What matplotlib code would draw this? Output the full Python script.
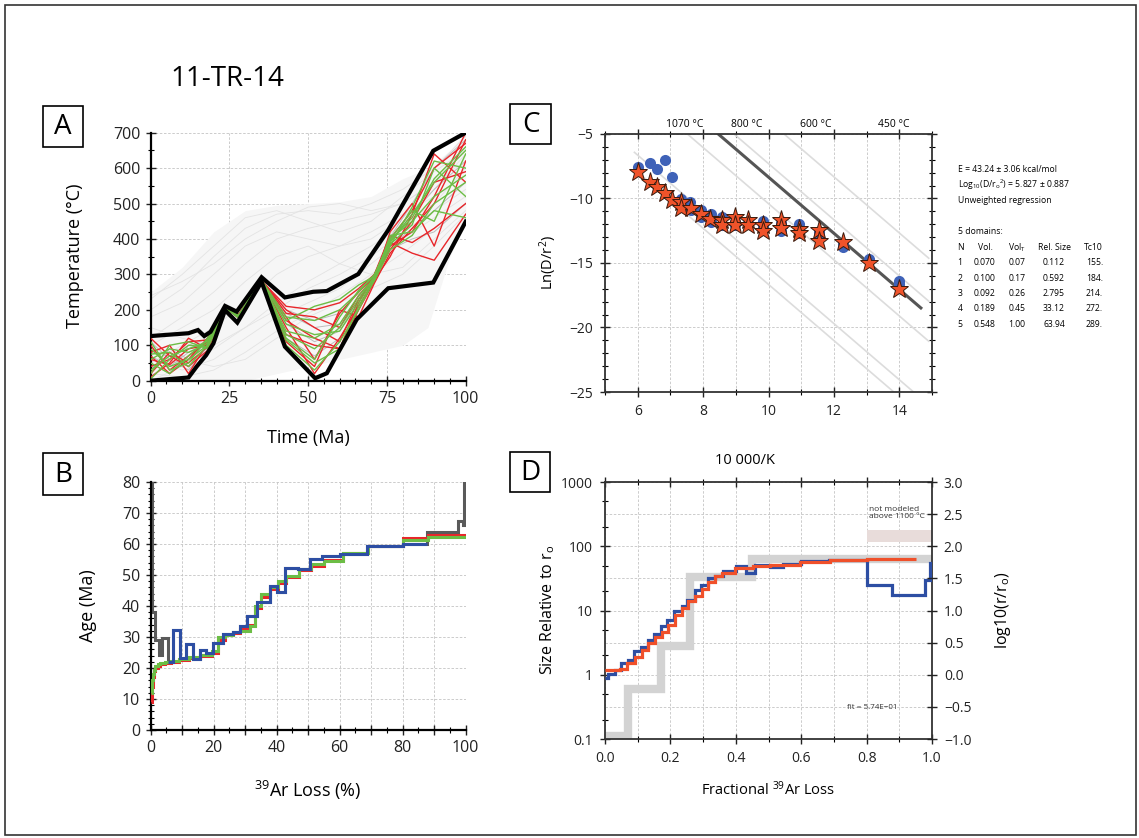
import numpy as np
import matplotlib
matplotlib.use("Agg")
import matplotlib.pyplot as plt
from matplotlib.patches import Rectangle
from matplotlib.ticker import MultipleLocator, FixedLocator, FuncFormatter, NullFormatter

plt.rcParams["font.family"] = ["Open Sans", "DejaVu Sans"]
plt.rcParams["mathtext.default"] = "regular"

#######################################################
# DATA
#######################################################

SAMPLE = "11-TR-14"

# --- A: thermal history (time Ma, temperature C)
ENV_T = [0, 12, 15, 17, 19, 23.6, 27.3, 35.2, 42.6, 51.6, 55.9, 65.9, 75.4, 89.7, 100]
ENV_HI = [126, 134, 143, 126, 138, 211, 195, 292, 235, 251, 253, 301, 425, 649, 700]
ENV_LO_T = [0, 12, 14.6, 17.6, 19.9, 23.6, 27.5, 35.2, 42.6, 52.2, 55.9, 65.4, 75.4, 89.7, 100]
ENV_LO = [0, 9, 40, 72, 105, 199, 164, 279, 96, 7, 21, 173, 261, 277, 449]

CLOUD_T = [0, 10, 20, 30, 40, 50, 60, 70, 80, 88, 95, 100]
CLOUD_HI = [250, 320, 420, 480, 495, 500, 505, 520, 570, 600, 650, 700]
CLOUD_LO = [0, 0, 0, 0, 20, 40, 60, 80, 100, 150, 350, 450]

GRAY_T = [0, 10, 20, 30, 40, 50, 60, 70, 80, 90, 100]
GRAY_PATHS = [
    [200, 260, 350, 430, 470, 480, 470, 500, 540, 600, 690],
    [120, 180, 250, 330, 400, 430, 450, 470, 500, 560, 620],
    [50, 100, 150, 220, 300, 350, 380, 420, 470, 520, 580],
    [0, 40, 90, 150, 200, 260, 300, 350, 420, 480, 540],
    [230, 300, 380, 460, 480, 450, 420, 450, 520, 590, 650],
    [80, 60, 40, 60, 120, 180, 220, 260, 300, 380, 470],
    [150, 120, 100, 150, 220, 280, 330, 380, 440, 500, 600],
    [20, 10, 30, 80, 140, 190, 240, 300, 360, 430, 500],
    [180, 220, 300, 380, 420, 400, 380, 400, 460, 540, 640],
    [100, 150, 200, 280, 350, 380, 330, 300, 320, 400, 480],
    [240, 280, 330, 400, 450, 490, 500, 480, 500, 560, 660],
    [60, 30, 60, 120, 180, 220, 260, 330, 400, 460, 520],
]

PATH_T = [0, 6, 12, 18, 24, 28, 35, 43, 52, 60, 66, 71, 76, 83, 90, 100]
MID_PATHS = [
    [70, 40, 80, 100, 205, 182, 285, 160, 110, 140, 230, 290, 380, 430, 480, 560],
    [30, 90, 60, 110, 205, 180, 285, 200, 170, 190, 250, 296, 395, 470, 540, 620],
    [110, 60, 30, 95, 205, 184, 286, 120, 70, 120, 210, 284, 370, 400, 420, 500],
    [50, 20, 100, 118, 205, 178, 284, 190, 150, 160, 240, 292, 405, 500, 600, 680],
]
RED_PATHS = [
    [60, 45, 90, 100, 205, 185, 285, 200, 150, 110, 230, 290, 380, 420, 520, 700],
    [100, 30, 70, 110, 205, 180, 285, 180, 60, 190, 250, 295, 400, 480, 600, 670],
    [20, 80, 50, 95, 206, 178, 286, 150, 20, 120, 210, 285, 350, 470, 640, 560],
    [40, 60, 110, 115, 204, 182, 284, 210, 200, 220, 260, 300, 410, 390, 430, 500],
    [120, 70, 40, 85, 205, 176, 285, 130, 100, 90, 200, 280, 420, 500, 380, 620],
    [80, 100, 20, 105, 206, 188, 287, 190, 180, 150, 240, 292, 370, 450, 560, 590],
    [10, 50, 120, 90, 204, 184, 284, 110, 40, 200, 180, 275, 360, 430, 500, 680],
    [70, 20, 60, 120, 205, 180, 286, 170, 120, 90, 220, 300, 390, 360, 340, 470],
]
GREEN_PATHS = [
    [30, 70, 90, 110, 206, 180, 285, 140, 120, 160, 240, 290, 390, 470, 560, 650],
    [90, 40, 60, 100, 205, 184, 286, 120, 60, 180, 255, 295, 400, 450, 520, 580],
    [5, 60, 100, 95, 204, 178, 284, 160, 130, 140, 220, 288, 380, 490, 620, 600],
    [60, 90, 80, 105, 205, 182, 285, 100, 30, 110, 200, 285, 410, 420, 480, 460],
    [110, 30, 50, 120, 206, 186, 287, 180, 170, 200, 250, 300, 395, 460, 570, 660],
    [20, 100, 110, 90, 204, 176, 283, 130, 90, 150, 230, 292, 385, 440, 600, 520],
    [50, 20, 70, 115, 205, 180, 285, 170, 210, 230, 270, 295, 400, 480, 450, 640],
    [75, 80, 40, 100, 206, 184, 286, 115, 50, 90, 210, 282, 370, 410, 500, 560],
]

# --- B: age spectra (cumulative 39Ar loss %, age Ma)
OBS_EDGES = [0.0, 0.4, 1.3, 2.5, 3.7, 5.4, 7.2, 9.3, 11.3, 13.5, 15.6, 17.7, 19.8, 22.9,
             26.2, 28.4, 30.5, 33.7, 37.9, 40.0, 42.6, 46.9, 50.6, 54.5, 60.1, 68.6,
             80.0, 87.6, 97.7, 99.2, 99.6, 100.0]
OBS_AGES = [95, 38, 29, 24.2, 29.6, 22.0, 32.3, 23.1, 27.7, 22.8, 25.8, 25.0, 28.0,
            30.9, 31.6, 33.4, 36.9, 41.4, 46.6, 44.5, 52.2, 51.9, 55.2, 56.0, 56.8,
            59.5, 60.0, 64.0, 67.5, 66.0, 95]
BLUE_EDGES = [5.4, 7.2, 9.3, 11.3, 13.5, 15.6, 17.7, 19.8, 22.9, 26.2, 28.4, 30.5,
              33.7, 37.9, 40.0, 42.6, 46.9, 50.6, 54.5, 60.1, 68.6, 80.0, 87.6]
BLUE_AGES = [22.0, 32.3, 23.1, 27.7, 22.8, 25.8, 25.0, 28.0, 30.9, 31.6, 33.4, 36.9,
             41.4, 46.6, 44.5, 52.2, 51.9, 55.2, 56.0, 56.8, 59.5, 60.0]
MODEL_EDGES = [0, 0.3, 0.6, 1.0, 1.5, 2.2, 3.0, 4.5, 6.5, 9.0, 12.0, 15.5, 19.5, 21.5,
               23.5, 26.0, 28.5, 31.5, 33.0, 35.0, 38.0, 40.5, 43.0, 47.0, 51.0, 55.0,
               61.0, 69.0, 80.0, 88.0, 100]
RED_AGES = [9, 14, 17, 19, 20, 20.8, 21.3, 21.7, 22.0, 22.5, 23.2, 24.0, 25.0, 29.0,
            30.5, 31.2, 32.5, 34.0, 39.5, 43.0, 45.5, 47.5, 49.5, 51.5, 53.0, 55.0,
            57.0, 59.5, 61.8, 62.8]
GREEN_AGES = [12, 16, 18, 19.5, 20.5, 21.2, 21.6, 21.9, 22.3, 22.8, 23.6, 24.3, 25.5,
              30.0, 30.8, 31.6, 32.0, 33.5, 40.0, 44.0, 46.0, 48.0, 49.8, 51.8, 53.5,
              54.5, 57.0, 59.5, 61.3, 62.3]

# --- C: Arrhenius plot (10000/K, ln(D/r^2))
E_KCAL = 43.24
LOG_D0 = 5.827
OBS_X = [6.0, 6.38, 6.59, 6.82, 7.06, 7.31, 7.6, 7.62, 7.93, 7.93, 8.24, 8.24, 8.58, 8.58,
         8.98, 8.98, 9.38, 9.83, 9.83, 10.37, 10.37, 10.92, 10.92, 11.54, 11.54, 12.27,
         12.27, 13.08, 13.98, 13.98]
OBS_Y = [-7.53, -7.27, -7.71, -7.02, -8.31, -10.06, -10.3, -10.9, -10.89, -11.46, -11.2,
         -11.8, -11.46, -12.05, -11.8, -12.05, -11.9, -11.75, -12.2, -11.9, -12.5, -12.0,
         -12.7, -12.6, -12.9, -13.79, -13.5, -14.7, -16.37, -16.6]
MOD_X = [6.0, 6.38, 6.59, 6.82, 7.06, 7.31, 7.33, 7.63, 7.93, 8.22, 8.58, 8.58, 8.98, 8.98,
         9.38, 9.38, 9.83, 9.83, 10.37, 10.37, 10.92, 10.92, 11.54, 11.54, 12.27, 13.08, 13.98]
MOD_Y = [-7.92, -8.69, -9.13, -9.6, -10.12, -10.3, -10.7, -10.71, -11.2, -11.59, -11.67,
         -12.05, -11.46, -12.05, -11.67, -12.05, -12.05, -12.49, -11.67, -12.31, -12.39,
         -12.65, -12.44, -13.29, -13.4, -15.03, -17.0]
TEMP_LABELS = [1070, 800, 600, 450]

# --- domain table
DOMAIN_N = [1, 2, 3, 4, 5]
DOMAIN_VOL = [0.070, 0.100, 0.092, 0.189, 0.548]
DOMAIN_VOLT = [0.07, 0.17, 0.26, 0.45, 1.00]
REL_SIZE = [0.112, 0.592, 2.795, 33.12, 63.94]
TC10 = [155., 184., 214., 272., 289.]

# --- D: size relative to r0 vs fractional 39Ar loss
D_BLUE_EDGES = [0, 0.01, 0.03, 0.05, 0.07, 0.09, 0.11, 0.13, 0.15, 0.17, 0.19, 0.21, 0.235,
                0.25, 0.275, 0.295, 0.315, 0.335, 0.36, 0.40, 0.43, 0.46, 0.505, 0.545,
                0.60, 0.685, 0.80, 0.878, 0.98, 0.995, 1.0]
D_BLUE_SIZE = [0.89, 1.04, 1.2, 1.52, 1.72, 2.31, 2.69, 3.5, 4.3, 5.8, 7.2, 9.7, 11.6, 14.7,
               21, 25, 32, 34, 40.7, 48.7, 38, 51.6, 47.5, 53, 58, 61.7, 25, 17.2, 30, 55]
D_RED_EDGES = [0, 0.046, 0.066, 0.092, 0.112, 0.133, 0.153, 0.173, 0.194, 0.214, 0.235,
               0.255, 0.276, 0.296, 0.316, 0.337, 0.357, 0.398, 0.454, 0.505, 0.597,
               0.689, 0.80, 0.95]
D_RED_SIZE = [1.2, 1.24, 1.52, 1.87, 2.4, 3.1, 3.9, 4.7, 6.0, 8.6, 10.9, 14.0, 16.7, 21.6,
              27.5, 35, 39, 45.5, 48.5, 51.6, 56, 60.5, 63.5]
FIT_TEXT = "fit = 5.74E\u221201"

#######################################################
# LAYOUT HELPERS (pixel boxes)
#######################################################

W, H = 1139, 838


def box(l, t, r, b):
    return [l / W, 1 - b / H, (r - l) / W, (b - t) / H]


def fx(x):
    return x / W


def fy(y):
    return 1 - y / H


GRID = dict(color="#c4c4c4", lw=0.6, ls=(0, (3, 2)))

fig = plt.figure(figsize=(W / 100, H / 100), dpi=100)
fig.patches.append(Rectangle((fx(5), fy(835)), fx(1131), (830) / H, transform=fig.transFigure,
                             fill=False, ec="#333333", lw=1.2))

fig.text(fx(170), fy(79), SAMPLE, fontsize=20, ha="left", va="center")


def panel_label(letter, l, t, r, b):
    fig.patches.append(Rectangle((fx(l), fy(b)), (r - l) / W, (b - t) / H,
                                 transform=fig.transFigure, fill=False, ec="black", lw=1.2))
    fig.text(fx((l + r) / 2), fy((t + b) / 2 + 1), letter, fontsize=20, ha="center", va="center")


panel_label("A", 43, 106, 83, 147)
panel_label("B", 43, 453, 83, 495)
panel_label("C", 510, 104, 551, 144)
panel_label("D", 510, 452, 550, 492)


def style_open(ax):
    for s in ["top", "right"]:
        ax.spines[s].set_visible(False)
    for s in ["left", "bottom"]:
        ax.spines[s].set_linewidth(1.6)
    ax.tick_params(which="major", direction="inout", length=7, width=1, labelsize=11.5,
                   colors="#222222", pad=4)
    ax.tick_params(which="minor", direction="inout", length=4, width=0.8)


def style_box(ax):
    for s in ax.spines.values():
        s.set_linewidth(1.3)
        s.set_color("#333333")
    ax.tick_params(which="major", direction="inout", length=7, width=1, labelsize=10,
                   colors="#222222", top=True, right=True, pad=5)
    ax.tick_params(which="minor", direction="inout", length=4, width=0.8, top=True, right=True)


#######################################################
# A: THERMAL HISTORIES
#######################################################
axA = fig.add_axes(box(150.7, 132.7, 465.7, 380.7))
axA.fill_between(CLOUD_T, CLOUD_LO, CLOUD_HI, color="#f6f6f6", lw=0, zorder=1)
for p in GRAY_PATHS:
    axA.plot(GRAY_T, p, color="#e3e3e3", lw=0.6, zorder=1.5)
for p in MID_PATHS:
    axA.plot(PATH_T, p, color="#bcbcbc", lw=0.7, zorder=2)
for p in RED_PATHS:
    axA.plot(PATH_T, p, color="#e8262a", lw=1.0, zorder=3)
for p in GREEN_PATHS:
    axA.plot(PATH_T, p, color="#6cbd45", lw=1.0, zorder=3.5)
axA.plot(ENV_T, ENV_HI, color="black", lw=3, zorder=5, solid_joinstyle="miter")
axA.plot(ENV_LO_T, ENV_LO, color="black", lw=3, zorder=5, solid_joinstyle="miter")
axA.set_xlim(0, 100)
axA.set_ylim(0, 700)
axA.xaxis.set_major_locator(MultipleLocator(25))
axA.xaxis.set_minor_locator(MultipleLocator(5))
axA.yaxis.set_major_locator(MultipleLocator(100))
axA.yaxis.set_minor_locator(MultipleLocator(50))
axA.grid(True, which="major", **GRID)
axA.set_axisbelow(True)
style_open(axA)
fig.text(fx(75), fy(256), "Temperature (\u00b0C)", fontsize=13, rotation=90, ha="center", va="center")
fig.text(fx(308), fy(438), "Time (Ma)", fontsize=13, ha="center", va="center")

#######################################################
# B: AGE SPECTRA
#######################################################
axB = fig.add_axes(box(150.7, 482, 465.7, 730))
axB.stairs(OBS_AGES, OBS_EDGES, baseline=None, color="#5a5a5a", lw=2.2, zorder=2)
axB.stairs(RED_AGES, MODEL_EDGES, baseline=None, color="#e8262a", lw=2.2, zorder=3)
axB.stairs(GREEN_AGES, MODEL_EDGES, baseline=None, color="#6cbd45", lw=2.2, zorder=3.5)
axB.stairs(BLUE_AGES, BLUE_EDGES, baseline=None, color="#2d4ea3", lw=2.2, zorder=4)
axB.set_xlim(0, 100)
axB.set_ylim(0, 80)
axB.xaxis.set_major_locator(MultipleLocator(10))
axB.xaxis.set_minor_locator(MultipleLocator(5))
axB.xaxis.set_major_formatter(FuncFormatter(lambda v, p: f"{v:.0f}" if int(round(v)) % 20 == 0 else ""))
axB.yaxis.set_major_locator(MultipleLocator(10))
axB.yaxis.set_minor_locator(MultipleLocator(2))
axB.grid(True, which="major", **GRID)
axB.set_axisbelow(True)
style_open(axB)
fig.text(fx(88), fy(606), "Age (Ma)", fontsize=13, rotation=90, ha="center", va="center")
fig.text(fx(308), fy(790), "$^{39}$Ar Loss (%)", fontsize=13, ha="center", va="center")

#######################################################
# C: ARRHENIUS
#######################################################
axC = fig.add_axes(box(605, 134, 932, 392))
slope = E_KCAL * 1000 / 1.987 / 10000
ln_d0 = LOG_D0 * np.log(10)
xs = np.array([5.9, 14.9])
for s in REL_SIZE:
    axC.plot(xs, ln_d0 - 2 * np.log(s) - slope * xs, color="#dcdcdc", lw=1.2, zorder=1.5)
xr = np.array([5.0, 14.66])
axC.plot(xr, ln_d0 - slope * xr, color="#555555", lw=2.2, zorder=2)
axC.plot(OBS_X, OBS_Y, "o", color="#3f62b8", ms=8, mec="none", zorder=3)
axC.plot(MOD_X, MOD_Y, "*", color="#f0532a", ms=14, mec="#3a1a0c", mew=0.7, zorder=4)
axC.set_xlim(5, 15)
axC.set_ylim(-25, -5)
axC.xaxis.set_major_locator(MultipleLocator(2))
axC.xaxis.set_minor_locator(MultipleLocator(1))
axC.yaxis.set_major_locator(MultipleLocator(5))
axC.yaxis.set_minor_locator(MultipleLocator(1))
axC.grid(True, which="major", axis="y", **GRID)
axC.grid(True, which="both", axis="x", **GRID)
axC.set_axisbelow(True)
style_box(axC)
for t in TEMP_LABELS:
    axC.text(10000 / (t + 273.15), 1.035, f"{t} \u00b0C", transform=axC.get_xaxis_transform(),
             fontsize=7.5, ha="center", va="center")
fig.text(fx(548), fy(263), "Ln(D/r$^2$)", fontsize=10.5, rotation=90, ha="center", va="center")
fig.text(fx(745), fy(460), "10 000/K", fontsize=10.5, ha="center", va="center")

# parameter block
tfs = 6.2
fig.text(fx(958), fy(169), f"E = {E_KCAL:.2f} \u00b1 3.06 kcal/mol", fontsize=tfs, va="center")
fig.text(fx(958), fy(184.5), f"Log$_{{10}}$(D/r$_o$$^2$) = {LOG_D0:.3f} \u00b1 0.887", fontsize=tfs, va="center")
fig.text(fx(958), fy(200.5), "Unweighted regression", fontsize=tfs, va="center")
fig.text(fx(958), fy(231.5), f"{len(DOMAIN_N)} domains:", fontsize=tfs, va="center")
cols = [(960, "center", "N"), (985, "center", "Vol."), (1017, "center", "Vol$_T$"),
        (1054, "center", "Rel. Size"), (1103, "right", "Tc10")]
for cx, ha, head in cols:
    fig.text(fx(cx), fy(247.3), head, fontsize=tfs, ha=ha, va="center")
for i in range(len(DOMAIN_N)):
    yy = 262.7 + i * 15.35
    vals = [f"{DOMAIN_N[i]}", f"{DOMAIN_VOL[i]:.3f}", f"{DOMAIN_VOLT[i]:.2f}",
            f"{REL_SIZE[i]:.4g}" if REL_SIZE[i] < 10 else f"{REL_SIZE[i]:.2f}",
            f"{TC10[i]:.0f}."]
    for (cx, ha, _), v in zip(cols, vals):
        fig.text(fx(cx), fy(yy), v, fontsize=tfs, ha=ha, va="center")

#######################################################
# D: DOMAIN SIZES
#######################################################
axD = fig.add_axes(box(605, 482, 932, 739))
axD.set_yscale("log")
axD.set_xlim(0, 1)
axD.set_ylim(0.1, 1000)
for lv in np.arange(-1, 3.01, 0.5):
    axD.axhline(10 ** lv, zorder=0, **GRID)
axD.stairs(REL_SIZE, [0] + DOMAIN_VOLT, baseline=None, color="#d3d3d3", lw=6, zorder=2)
axD.add_patch(Rectangle((0.8, 115), 0.2, 65, color="#e8dcda", lw=0, zorder=1.5))
axD.stairs(D_BLUE_SIZE, D_BLUE_EDGES, baseline=None, color="#2d4ea3", lw=2.3, zorder=3)
axD.stairs(D_RED_SIZE, D_RED_EDGES, baseline=None, color="#f0502a", lw=2.3, zorder=4)
axD.text(0.806, 330, "not modeled\nabove 1100 \u00b0C", fontsize=6.0, color="#333333",
         ha="left", va="center", linespacing=1.1)
axD.text(0.74, 0.31, FIT_TEXT, fontsize=5.8, color="#333333", ha="left", va="center")
axD.xaxis.set_major_locator(MultipleLocator(0.2))
axD.xaxis.set_minor_locator(MultipleLocator(0.1))
axD.xaxis.set_major_formatter(FuncFormatter(lambda v, p: f"{v:.1f}"))
axD.yaxis.set_major_locator(FixedLocator([0.1, 1, 10, 100, 1000]))
axD.yaxis.set_minor_locator(FixedLocator([0.2, 0.5, 2, 5, 20, 50, 200, 500]))
axD.yaxis.set_major_formatter(FuncFormatter(lambda v, p: f"{v:g}"))
axD.yaxis.set_minor_formatter(NullFormatter())
axD.grid(True, which="both", axis="x", **GRID)
axD.set_axisbelow(True)
style_box(axD)
axD.tick_params(right=False, which="both")
axD2 = axD.twinx()
axD2.set_ylim(-1, 3)
axD2.yaxis.set_major_locator(MultipleLocator(0.5))
axD2.yaxis.set_major_formatter(FuncFormatter(lambda v, p: f"{v:.1f}".replace("-", "\u2212")))
axD2.tick_params(which="major", direction="inout", length=7, width=1, labelsize=10,
                 colors="#222222", pad=5)
for s in axD2.spines.values():
    s.set_visible(False)
fig.text(fx(548), fy(610), "Size Relative to r$_o$", fontsize=11.5, rotation=90, ha="center", va="center")
fig.text(fx(1003), fy(610), "log10(r/r$_o$)", fontsize=11.5, rotation=90, ha="center", va="center")
fig.text(fx(768), fy(790), "Fractional $^{39}$Ar Loss", fontsize=10.5, ha="center", va="center")

fig.savefig("out.png", dpi=100)
